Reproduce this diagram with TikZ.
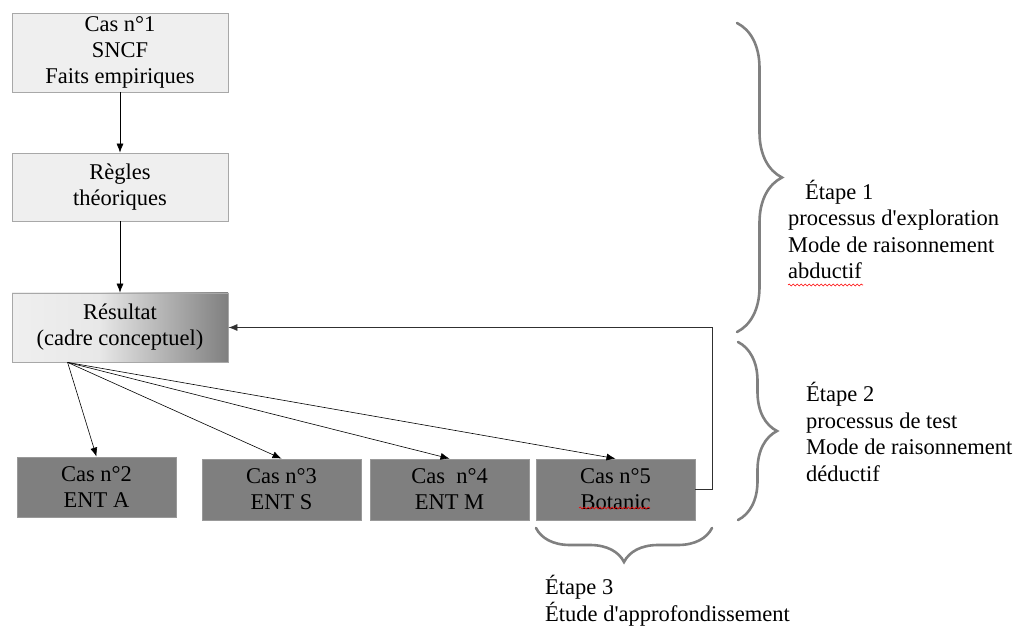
\documentclass[tikz,border=0pt]{standalone}
\usepackage{fontspec}
\setmainfont{Liberation Serif}[Ligatures=TeXOff]
\usetikzlibrary{arrows.meta,decorations.pathreplacing,decorations.pathmorphing}
\definecolor{lightbox}{HTML}{EFEFEF}
\definecolor{lightborder}{HTML}{A8A8A8}
\definecolor{darkbox}{HTML}{7F7F7F}
\definecolor{darkborder}{HTML}{999999}
\definecolor{bracegray}{HTML}{808080}
\definecolor{fbline}{HTML}{303030}
\pgfdeclarehorizontalshading{resshade}{100bp}{color(0bp)=(lightbox); color(25bp)=(lightbox); color(45bp)=(black!9); color(75bp)=(black!50); color(100bp)=(black!50)}
\begin{document}
\begin{tikzpicture}[x=1pt,y=-1pt,
  txt/.style={font=\fontsize{22.5}{26}\selectfont},
  lightnode/.style={txt,draw=lightborder,fill=lightbox,line width=0.8pt,align=center,inner sep=0pt,minimum width=216pt},
  darknode/.style={txt,draw=darkborder,fill=darkbox,line width=0.8pt,align=center,inner sep=0pt,minimum width=159pt,minimum height=61pt},
  arr/.style={-{Latex[length=9pt,width=7pt]},line width=0.6pt,black},
  fbarr/.style={-{Latex[length=9pt,width=7pt]},line width=0.8pt,fbline},
  bracestyle/.style={draw=bracegray,line width=2.6pt,line cap=round,decorate},
  side/.style={txt,anchor=base west,align=left,inner sep=0pt,font=\fontsize{22.5}{26.5}\selectfont},
  spell/.style={draw=red,line width=0.6pt,decorate,decoration={snake,segment length=4pt,amplitude=0.9pt}}
]
\useasboundingbox (0,0) rectangle (1017,628);

\node[lightnode,minimum height=79pt] (c1) at (120,52.5) {Cas n°1\\SNCF\\Faits empiriques};
\node[lightnode,minimum height=68pt] (rg) at (120,187) {Règles\\théoriques};
\node[lightnode,minimum height=69pt,shading=resshade] (res) at (120,327.5) {Résultat\\(cadre conceptuel)};

\node[darknode,minimum height=60pt] (nA) at (96.5,487) {Cas n°2\\ENT A};
\node[darknode] (nS) at (281.5,489.5) {Cas n°3\\ENT S};
\node[darknode] (nM) at (449.5,489.5) {Cas\ \ n°4\\ENT M};
\node[darknode] (nB) at (615.5,489.5) {Cas n°5\\Botanic};

\draw[arr] (c1) -- (rg);
\draw[arr] (rg) -- (res);

\coordinate (fan) at ([xshift=56pt]res.south west);
\draw[arr] (fan) -- (nA.north);
\draw[arr] (fan) -- (nS.north);
\draw[arr] (fan) -- (nM.north);
\draw[arr] (fan) -- (nB.north);

\coordinate (fbx) at (712,0);
\draw[fbarr] (nB.east) -- (nB.east -| fbx) |- (res.east);

% braces
\draw[bracestyle,decoration={brace,amplitude=45pt}] (737,23) -- (737,332);
\draw[bracestyle,decoration={brace,amplitude=39pt}] (738,342) -- (738,520);
\draw[bracestyle,decoration={brace,amplitude=34pt}] (712,528) -- (536,528);

\node[side] (e1) at (788,279) {\hspace*{17pt}Étape 1\\processus d'exploration\\Mode de raisonnement\\abductif};
\node[side] (e2) at (806,481) {Étape 2\\processus de test\\Mode de raisonnement\\déductif};
\node[side] (e3) at (545,621) {Étape 3\\Étude d'approfondissement};

% spell-check underlines
\draw[spell] (788,285) -- (863,285);
\draw[spell] (579,508) -- (650,508);
\end{tikzpicture}
\end{document}
